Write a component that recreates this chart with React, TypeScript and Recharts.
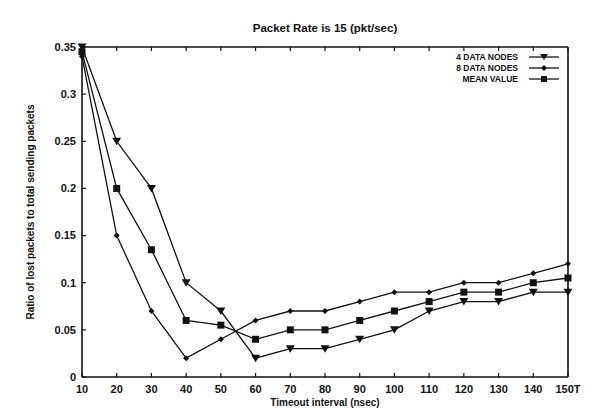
import React from 'react';
import { LineChart, Line, XAxis, YAxis } from 'recharts';

const timeouts = [10, 20, 30, 40, 50, 60, 70, 80, 90, 100, 110, 120, 130, 140, 150];
const fourNodes = [0.35, 0.25, 0.2, 0.1, 0.07, 0.02, 0.03, 0.03, 0.04, 0.05, 0.07, 0.08, 0.08, 0.09, 0.09];
const eightNodes = [0.34, 0.15, 0.07, 0.02, 0.04, 0.06, 0.07, 0.07, 0.08, 0.09, 0.09, 0.1, 0.1, 0.11, 0.12];
const meanValue = [0.345, 0.2, 0.135, 0.06, 0.055, 0.04, 0.05, 0.05, 0.06, 0.07, 0.08, 0.09, 0.09, 0.1, 0.105];
const yTicks = [0, 0.05, 0.1, 0.15, 0.2, 0.25, 0.3, 0.35];

const data = timeouts.map((t, i) => ({
  t,
  four: fourNodes[i],
  eight: eightNodes[i],
  mean: meanValue[i],
}));

const ink = '#111';
const font = '"Liberation Sans", Arial, sans-serif';
const tickStyle = { fill: ink, fontSize: 11, fontWeight: 700, fontFamily: font };

const TriDot = (p: any) => {
  const { cx, cy } = p;
  if (cx == null || cy == null) return null;
  return <polygon key={p.key} points={`${cx - 4.5},${cy - 3.5} ${cx + 4.5},${cy - 3.5} ${cx},${cy + 4}`} fill={ink} />;
};
const DiaDot = (p: any) => {
  const { cx, cy } = p;
  if (cx == null || cy == null) return null;
  return <polygon key={p.key} points={`${cx},${cy - 3} ${cx + 3},${cy} ${cx},${cy + 3} ${cx - 3},${cy}`} fill={ink} />;
};
const SqDot = (p: any) => {
  const { cx, cy } = p;
  if (cx == null || cy == null) return null;
  return <rect key={p.key} x={cx - 3.5} y={cy - 3.5} width={7} height={7} fill={ink} />;
};

const legendRows = [
  { label: '4  DATA NODES', marker: 'tri' },
  { label: '8  DATA NODES', marker: 'dia' },
  { label: 'MEAN VALUE', marker: 'sq' },
];

function LegendBox() {
  return (
    <svg width={130} height={36} style={{ position: 'absolute', left: 432, top: 50 }}>
      {legendRows.map((r, i) => {
        const y = 7 + i * 11;
        return (
          <g key={r.label}>
            <text x={86} y={y + 3} textAnchor="end" fontSize={8.5} fontWeight={700} fontFamily={font} fill={ink}>
              {r.label}
            </text>
            <line x1={97} x2={127} y1={y} y2={y} stroke={ink} strokeWidth={1.3} />
            {r.marker === 'tri' && <polygon points={`${108},${y - 3} ${116},${y - 3} ${112},${y + 3}`} fill={ink} />}
            {r.marker === 'dia' && <polygon points={`${112},${y - 3} ${115},${y} ${112},${y + 3} ${109},${y}`} fill={ink} />}
            {r.marker === 'sq' && <rect x={109} y={y - 3} width={6} height={6} fill={ink} />}
          </g>
        );
      })}
    </svg>
  );
}

export default function App() {
  return (
    <div style={{ position: 'absolute', left: 0, top: 0, width: 597, height: 417, background: '#fff', fontFamily: font }}>
      <div
        style={{
          position: 'absolute',
          left: 82,
          width: 486,
          top: 22,
          textAlign: 'center',
          fontSize: 11.5,
          fontWeight: 700,
          color: ink,
        }}
      >
        Packet Rate is 15 (pkt/sec)
      </div>
      <div
        style={{
          position: 'absolute',
          left: 82,
          width: 486,
          top: 397,
          textAlign: 'center',
          fontSize: 10,
          fontWeight: 700,
          color: ink,
        }}
      >
        Timeout interval (nsec)
      </div>
      <div
        style={{
          position: 'absolute',
          left: 30,
          top: 212,
          transform: 'translate(-50%, -50%) rotate(-90deg)',
          whiteSpace: 'nowrap',
          fontSize: 10,
          fontWeight: 700,
          color: ink,
        }}
      >
        Ratio of lost packets to total sending packets
      </div>
      <LineChart
        width={597}
        height={417}
        data={data}
        margin={{ top: 46, right: 28, bottom: 20, left: 50 }}
        style={{ position: 'absolute', left: 0, top: 0 }}
      >
        <XAxis
          dataKey="t"
          type="number"
          domain={[10, 150]}
          ticks={timeouts}
          tickFormatter={(v: number) => (v === 150 ? '150T' : String(v))}
          tick={tickStyle}
          tickSize={-4}
          tickMargin={12}
          height={20}
          axisLine={{ stroke: ink, strokeWidth: 1.6 }}
          tickLine={{ stroke: ink, strokeWidth: 1.2 }}
        />
        <XAxis
          xAxisId="top"
          orientation="top"
          dataKey="t"
          type="number"
          domain={[10, 150]}
          ticks={timeouts}
          tickFormatter={() => ''}
          tickSize={-4}
          height={1}
          axisLine={{ stroke: ink, strokeWidth: 1.6 }}
          tickLine={{ stroke: ink, strokeWidth: 1.2 }}
        />
        <YAxis
          type="number"
          domain={[0, 0.35]}
          ticks={yTicks}
          tick={tickStyle}
          tickSize={-4}
          tickMargin={10}
          width={32}
          axisLine={{ stroke: ink, strokeWidth: 1.6 }}
          tickLine={{ stroke: ink, strokeWidth: 1.2 }}
        />
        <YAxis
          yAxisId="right"
          orientation="right"
          type="number"
          domain={[0, 0.35]}
          ticks={yTicks}
          tickFormatter={() => ''}
          tickSize={-4}
          width={1}
          axisLine={{ stroke: ink, strokeWidth: 1.6 }}
          tickLine={{ stroke: ink, strokeWidth: 1.2 }}
        />
        <Line dataKey="four" stroke={ink} strokeWidth={1.3} dot={TriDot} isAnimationActive={false} />
        <Line dataKey="eight" stroke={ink} strokeWidth={1.3} dot={DiaDot} isAnimationActive={false} />
        <Line dataKey="mean" stroke={ink} strokeWidth={1.3} dot={SqDot} isAnimationActive={false} />
      </LineChart>
      <LegendBox />
    </div>
  );
}
